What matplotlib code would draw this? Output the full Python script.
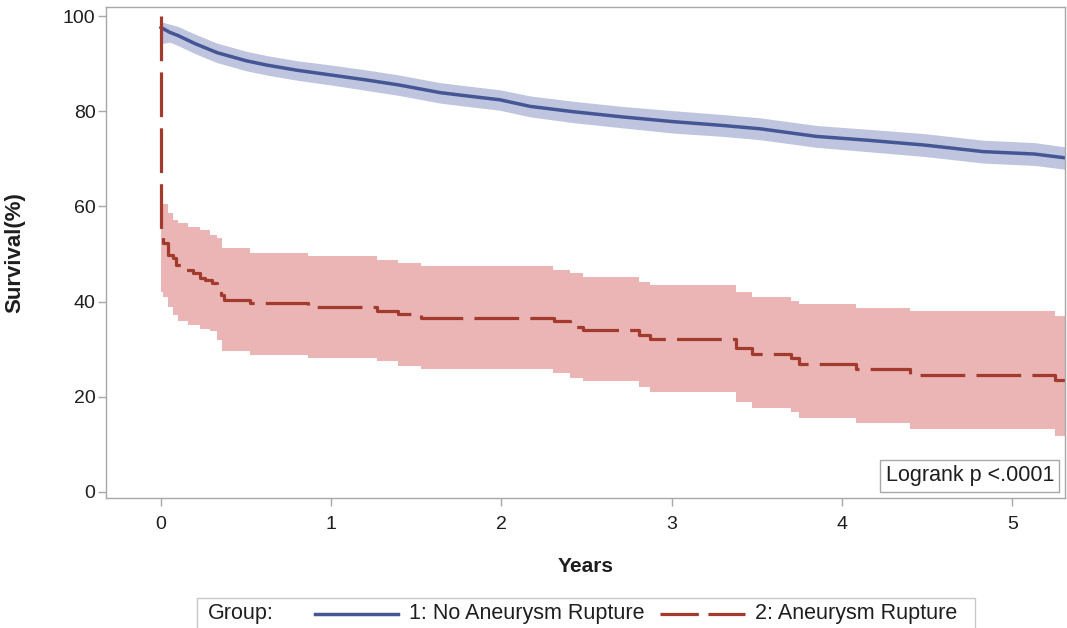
import numpy as np
import matplotlib.pyplot as plt
from matplotlib.patches import Rectangle
from matplotlib.lines import Line2D

plt.rcParams['font.family'] = ['Liberation Sans', 'DejaVu Sans']

# group 1: no aneurysm rupture (survival % and 95% band)
t_no = [0.00, 0.05, 0.10, 0.20, 0.33, 0.50, 0.62, 0.80, 1.00, 1.20, 1.40, 1.64, 1.80,
        1.99, 2.17, 2.42, 2.71, 3.01, 3.30, 3.52, 3.85, 4.15, 4.48, 4.83, 5.13, 5.31]
s_no = [97.6, 96.6, 95.9, 94.2, 92.3, 90.6, 89.7, 88.6, 87.6, 86.6, 85.5, 83.9, 83.2,
        82.4, 81.0, 79.9, 78.8, 77.8, 77.0, 76.3, 74.7, 73.9, 72.9, 71.5, 71.0, 70.2]
hi_no = [98.8, 98.3, 97.8, 96.2, 94.3, 92.6, 91.7, 90.6, 89.7, 88.7, 87.6, 86.0, 85.3,
         84.5, 83.2, 82.1, 81.0, 80.1, 79.3, 78.6, 77.0, 76.2, 75.3, 73.9, 73.4, 72.5]
lo_no = [94.2, 94.5, 93.8, 92.1, 90.2, 88.5, 87.6, 86.5, 85.5, 84.4, 83.3, 81.7, 81.0,
         80.2, 78.8, 77.6, 76.5, 75.4, 74.7, 74.0, 72.4, 71.5, 70.5, 69.1, 68.6, 67.8]

# group 2: aneurysm rupture (step curve)
t_rup = [0, 0, 0.005, 0.01, 0.04, 0.07, 0.09, 0.14, 0.19, 0.23, 0.26, 0.30, 0.33, 0.35,
         0.37, 0.52, 0.865, 1.27, 1.39, 1.53, 2.31, 2.40, 2.48, 2.81, 2.87, 3.38, 3.47,
         3.70, 3.745, 4.08, 4.40, 5.25, 5.31]
s_rup = [100, 55, 53.5, 52.3, 49.8, 49.1, 47.7, 46.6, 46.0, 45.0, 44.5, 43.9, 42.4, 41.4,
         40.3, 39.6, 38.8, 38.1, 37.4, 36.6, 35.8, 34.7, 34.0, 33.0, 32.1, 30.2, 29.0,
         28.1, 26.9, 25.8, 24.6, 23.4, 23.4]
t_rup_ci = [0, 0.01, 0.04, 0.07, 0.10, 0.16, 0.23, 0.29, 0.33, 0.36, 0.52, 0.865, 1.27,
            1.39, 1.53, 2.30, 2.40, 2.48, 2.81, 2.87, 3.38, 3.47, 3.70, 3.745, 4.08,
            4.40, 5.25, 5.31]
hi_rup = [62, 60.5, 58.6, 57.1, 56.5, 55.7, 55.0, 54.0, 53.4, 51.2, 50.3, 49.6, 48.7,
          48.0, 47.5, 46.6, 45.9, 45.1, 44.2, 43.5, 41.9, 41.0, 40.2, 39.4, 38.6, 37.9,
          37.0, 37.0]
lo_rup = [42, 41.0, 38.9, 37.2, 35.8, 35.1, 34.2, 33.7, 31.9, 29.5, 28.8, 28.1, 27.4,
          26.5, 25.8, 24.9, 23.9, 23.2, 22.0, 20.9, 18.8, 17.7, 16.7, 15.5, 14.4, 13.2,
          11.8, 11.8]

xticks = [0, 1, 2, 3, 4, 5]
yticks = [0, 20, 40, 60, 80, 100]
labels = ['1: No Aneurysm Rupture', '2: Aneurysm Rupture']

blue, red = '#445694', '#A23A2E'
blue_band, red_band = '#BFC5DF', '#EAB5B4'
grey = '#A8A8A8'
txt = '#1E1E1E'

W, H = 1067, 628
fig = plt.figure(figsize=(W / 100, H / 100), dpi=100)
ax = fig.add_axes([106 / W, 1 - 498 / H, 959 / W, 491 / H])

ax.fill_between(t_no, lo_no, hi_no, color=blue_band, lw=0)
ax.fill_between(t_rup_ci, lo_rup, hi_rup, step='post', color=red_band, lw=0)
ax.plot(t_no, s_no, color=blue, lw=2.5)
line_rup, = ax.plot(t_rup, s_rup, color=red, lw=2.3, drawstyle='steps-post')
line_rup.set_dashes((14, 3.5))

ax.set_xlim(-0.323, 5.31)
ax.set_ylim(-1.3, 101.9)
ax.set_xticks(xticks)
ax.set_yticks(yticks)
ax.tick_params(colors=grey, labelcolor=txt, labelsize=14, length=6, width=1)
ax.tick_params(axis='x', pad=7)
ax.tick_params(axis='y', pad=1.5)
for sp in ax.spines.values():
    sp.set_color(grey)
    sp.set_linewidth(1)

ax.set_xlabel('Years', fontsize=15, fontweight='bold', color=txt, va='center')
ax.xaxis.set_label_coords(0.5, -(567 - 498) / 491)
ax.set_ylabel('Survival(%)', fontsize=16, fontweight='bold', color=txt, va='center')
ax.yaxis.set_label_coords(-(106 - 15) / 959, 0.5)

ax.text(0.9885, 0.024, 'Logrank p <.0001', transform=ax.transAxes, ha='right', va='bottom',
        fontsize=15.5, color=txt,
        bbox=dict(boxstyle='square,pad=0.25', fc='white', ec=grey, lw=1))

# legend bar at the bottom
fig.patches.append(Rectangle((197 / W, 1 - 629 / H), 778 / W, 31 / H, transform=fig.transFigure,
                             fill=False, ec='#C8C8C8', lw=1))
ly = 1 - 614 / H
fig.text(208 / W, ly, 'Group:', fontsize=15.5, va='center', color=txt)
fig.lines.append(Line2D([315 / W, 398 / W], [ly, ly], transform=fig.transFigure, color=blue, lw=2.5))
fig.text(409 / W, ly, labels[0], fontsize=15.5, va='center', color=txt)
leg_red = Line2D([660 / W, 745 / W], [ly, ly], transform=fig.transFigure, color=red, lw=2.3)
leg_red.set_dashes((12, 3))
fig.lines.append(leg_red)
fig.text(755 / W, ly, labels[1], fontsize=15.5, va='center', color=txt)

fig.savefig('out.png', dpi=100)
